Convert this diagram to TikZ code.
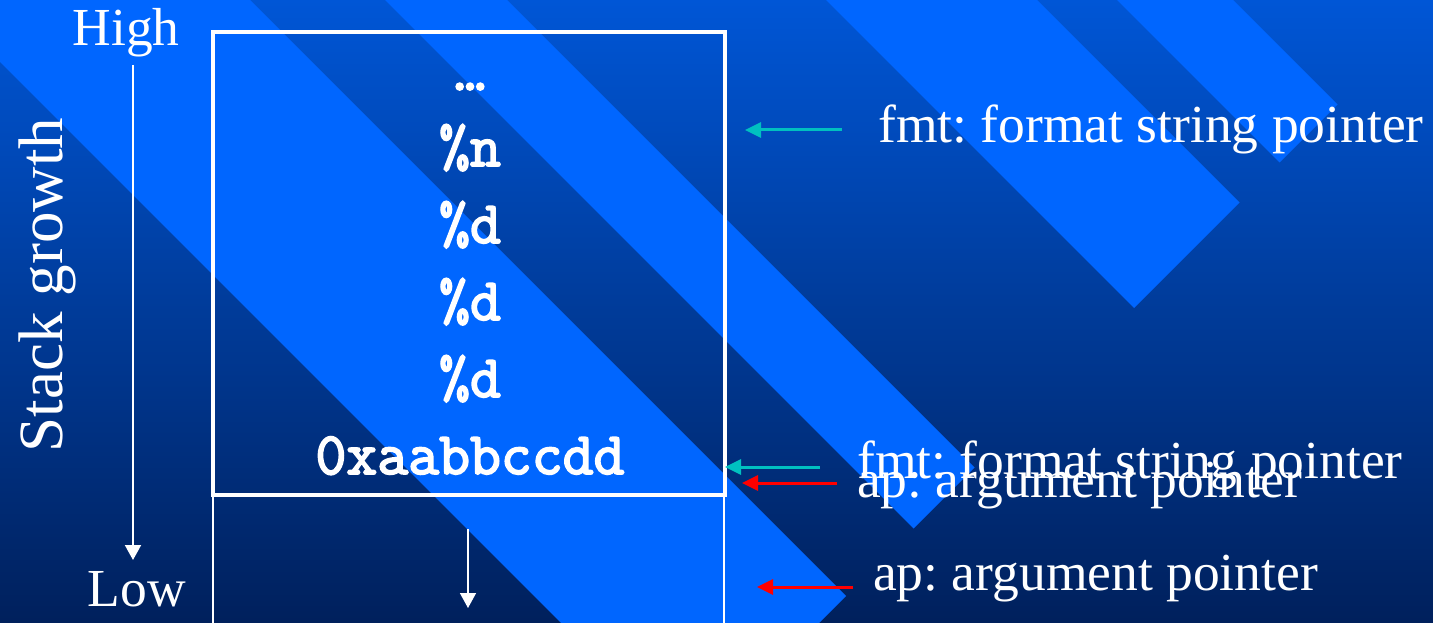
\documentclass[tikz,border=0pt]{standalone}
\usepackage{fontspec}
\setmainfont{Liberation Serif}
\newfontfamily\slotfont{Latin Modern Mono}[FakeBold=3]
\usepackage{xcolor}
\usepackage{tikz}
\usetikzlibrary{arrows.meta}

\definecolor{slidetop}{RGB}{0,86,214}
\definecolor{slidebot}{RGB}{0,32,92}
\definecolor{ribbon}{RGB}{0,102,255}
\definecolor{fmtcyan}{RGB}{0,192,192}
\definecolor{apred}{RGB}{255,0,0}

\begin{document}
\frenchspacing
\begin{tikzpicture}[x=1pt,y=-1pt,
    ribbonfill/.style={fill=ribbon},
    lbl/.style={text=white,inner sep=0pt,font=\fontsize{53.5}{60}\selectfont},
    slot/.style={text=white,inner sep=0pt,font=\fontsize{60}{66}\selectfont\slotfont\bfseries},
    ptr/.style={line width=3pt,-{Triangle[length=16pt,width=15pt]}},
    growarrow/.style={white,-{Triangle[length=15pt,width=16pt]}}]
  \useasboundingbox (0,0) rectangle (1433,623);
  \shade[top color=slidetop,bottom color=slidebot] (0,0) rectangle (1433,623);
  \begin{scope}
    \clip (0,0) rectangle (1433,623);
    % ribbons, all cut off on the line x+y=1442
    \fill[ribbonfill] (-62,0) -- (250,0) -- (846,596) -- (690,752) -- cycle;
    \fill[ribbonfill] (385,0) -- (507,0) -- (974.5,467.5) -- (913.5,528.5) -- cycle;
    \fill[ribbonfill] (826,0) -- (1037,0) -- (1239.5,202.5) -- (1134,308) -- cycle;
    \fill[ribbonfill] (1117,0) -- (1233,0) -- (1337.5,104.5) -- (1279.5,162.5) -- cycle;
  \end{scope}

  % stack frame
  \draw[white,line width=3.5pt] (213,32) rectangle (725,495);
  \draw[white,line width=2.5pt] (213,640) -- (213,495) -- (724,495) -- (724,640);

  \node[slot,anchor=base] (dots) at (470,90) {…};
  \node[slot,anchor=base] (pcn) at (470,166) {\%n};
  \node[slot,anchor=base] (pcd1) at (470,243) {\%d};
  \node[slot,anchor=base] (pcd2) at (470,320) {\%d};
  \node[slot,anchor=base] (pcd3) at (470,397) {\%d};
  \node[slot,anchor=base] (addr) at (470,474) {0xaabbccdd};

  % growth direction
  \node[lbl,anchor=base] (high) at (126,46) {High};
  \node[lbl,anchor=base] (low) at (137,606) {Low};
  \node[lbl,anchor=base,rotate=90,font=\fontsize{63}{70}\selectfont] (growth) at (62,285) {Stack growth};
  \coordinate (gtop) at (133,65);
  \coordinate (gbot) at (133,560);
  \draw[growarrow,line width=2pt] (gtop) -- (gbot);
  \coordinate (dtop) at (468,529);
  \coordinate (dbot) at (468,608);
  \draw[growarrow,line width=1.5pt] (dtop) -- (dbot);

  % pointers
  \node[lbl,anchor=base west] (fmtlbl) at (878,143) {fmt: format string pointer};
  \node[lbl,anchor=base west] (fmtlbl2) at (857,478) {fmt: format string pointer};
  \node[lbl,anchor=base west] (aplbl) at (857,497) {ap: argument pointer};
  \node[lbl,anchor=base west] (aplbl2) at (873,590) {ap: argument pointer};
  \coordinate (fmtA) at (842,130);
  \coordinate (fmtA') at (745,130);
  \coordinate (fmtB) at (820,467);
  \coordinate (fmtB') at (725,467);
  \coordinate (apA) at (837,483);
  \coordinate (apA') at (742,483);
  \coordinate (apB) at (853,587);
  \coordinate (apB') at (757,587);
  \draw[ptr,fmtcyan] (fmtA) -- (fmtA');
  \draw[ptr,fmtcyan] (fmtB) -- (fmtB');
  \draw[ptr,apred] (apA) -- (apA');
  \draw[ptr,apred] (apB) -- (apB');
\end{tikzpicture}
\end{document}
